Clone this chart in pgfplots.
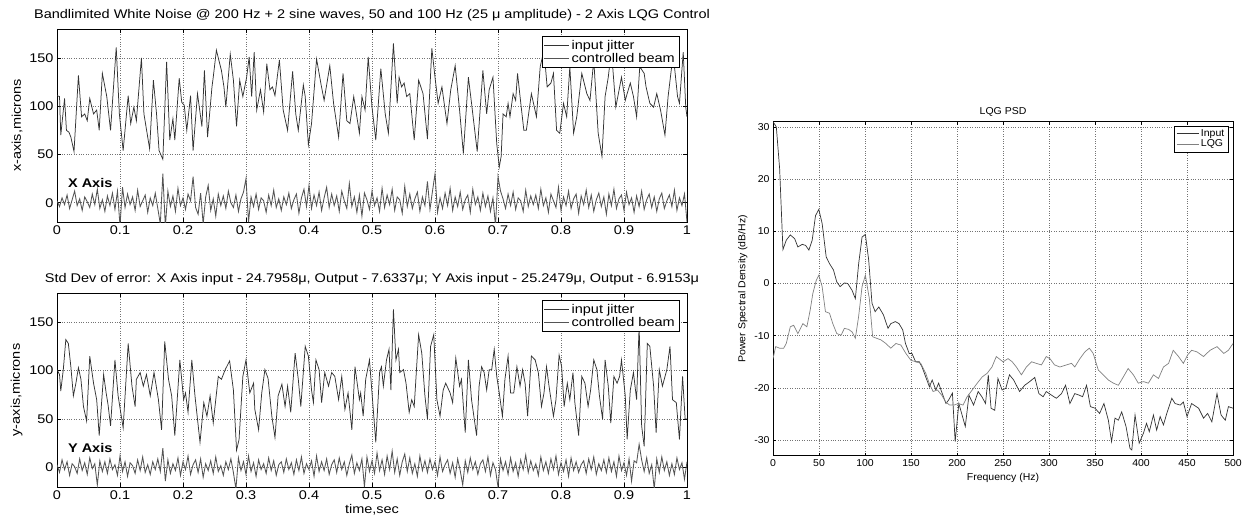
\documentclass[border=0pt]{standalone}
\usepackage{fontspec}
\setmainfont{Liberation Sans}
\newfontfamily\lfont[FakeStretch=1.15]{Liberation Sans}
\newfontfamily\rfont[FakeStretch=1.05]{Liberation Sans}
\usepackage{pgfplots}
\pgfplotsset{compat=1.18}
\definecolor{inpc}{gray}{0.2}
\definecolor{beamc}{gray}{0.33}
\pgfplotsset{
  lefts/.style={
    scale only axis, width=630pt, height=193pt,
    xmin=0, xmax=1, ymin=-20, ymax=180,
    xtick={0,0.1,0.2,0.3,0.4,0.5,0.6,0.7,0.8,0.9,1},
    xticklabels={0,0.1,0.2,0.3,0.4,0.5,0.6,0.7,0.8,0.9,1},
    ytick={0,50,100,150},
    grid=major, major grid style={dotted, black!55, line width=0.5pt},
    tick align=inside, major tick length=4pt,
    tick style={black, line width=0.5pt},
    axis line style={black, line width=0.6pt},
    /pgf/number format/assume math mode=true,
    ticklabel style={font=\lfont\fontsize{12.6}{14}\selectfont},
    label style={font=\lfont\fontsize{12.6}{14}\selectfont},
    title style={font=\lfont\fontsize{12.6}{14}\selectfont, yshift=-2pt},
    legend style={at={(1,1)}, anchor=north east, xshift=-8pt, yshift=-7pt,
      font=\lfont\fontsize{12.6}{14}\selectfont, draw=black, line width=0.5pt,
      fill=white, inner sep=2pt, row sep=-2pt, cells={anchor=west}},
    legend image code/.code={\draw[#1] (0pt,0pt) -- (25pt,0pt);},
  },
  inp/.style={color=inpc, line width=0.75pt},
  beam/.style={color=beamc, line width=0.85pt},
}
\begin{document}
\begin{tikzpicture}
\useasboundingbox (0,0) rectangle (1246pt,523pt);

% ---------------- top-left: X axis ----------------
\begin{axis}[lefts, at={(57pt,301pt)}, anchor=south west,
  ylabel={x-axis,microns},
  title={Bandlimited White Noise @ 200 Hz + 2 sine waves, 50 and 100 Hz (25 μ amplitude) - 2 Axis LQG Control}]
\addplot[inp] coordinates {
(0,111)(0.004,110)(0.006,70)(0.012,108)(0.015,75)(0.019,73)(0.022,68)(0.027,53)(0.034,132)(0.039,89)(0.044,92)(0.048,85)(0.052,108)(0.058,92)(0.063,96)(0.067,75)(0.072,134)(0.079,110)(0.085,75)(0.094,161)(0.099,92)(0.105,54)(0.113,111)(0.117,82)(0.122,99)(0.126,85)(0.134,150)(0.138,92)(0.147,56)(0.153,127)(0.158,92)(0.162,54)(0.168,45)(0.174,146)(0.179,65)(0.184,87)(0.187,65)(0.194,129)(0.198,104)(0.202,101)(0.206,75)(0.212,111)(0.216,54)(0.223,113)(0.230,79)(0.234,137)(0.239,68)(0.246,120)(0.248,130)(0.253,158)(0.261,137)(0.265,120)(0.268,99)(0.275,154)(0.280,127)(0.285,79)(0.290,127)(0.295,110)(0.301,130)(0.305,151)(0.309,110)(0.313,156)(0.317,96)(0.323,117)(0.328,94)(0.333,144)(0.338,117)(0.342,120)(0.346,111)(0.353,148)(0.359,96)(0.366,75)(0.374,136)(0.379,92)(0.383,75)(0.391,122)(0.394,110)(0.399,60)(0.404,82)(0.412,149)(0.419,123)(0.424,106)(0.433,142)(0.439,103)(0.447,68)(0.454,134)(0.460,85)(0.465,82)(0.471,110)(0.480,72)
(0.484,110)(0.489,96)(0.494,151)(0.500,99)(0.506,65)(0.514,139)(0.521,92)(0.526,72)(0.534,165)(0.540,103)(0.543,130)(0.547,120)(0.551,124)(0.555,110)(0.560,113)(0.567,65)(0.574,127)(0.581,113)(0.588,66)(0.595,160)(0.600,130)(0.605,103)(0.611,120)(0.619,82)(0.625,117)(0.632,142)(0.639,96)(0.645,51)(0.653,130)(0.658,103)(0.667,53)(0.676,137)(0.682,92)(0.686,117)(0.692,130)(0.698,61)(0.702,37)(0.705,48)(0.708,92)(0.713,89)(0.716,103)(0.719,89)(0.724,113)(0.728,106)(0.731,134)(0.735,110)(0.741,75)(0.745,75)(0.753,113)(0.761,89)(0.767,141)(0.773,158)(0.778,120)(0.784,124)(0.788,134)(0.793,75)(0.798,72)(0.804,103)(0.809,89)(0.814,141)(0.820,72)(0.825,89)(0.833,134)(0.841,113)(0.846,106)(0.852,148)(0.859,72)(0.865,48)(0.870,110)(0.875,130)(0.880,158)(0.887,99)(0.896,130)(0.902,106)(0.905,113)(0.910,124)(0.915,110)(0.920,89)(0.925,141)(0.932,134)(0.935,120)(0.941,103)(0.947,99)(0.952,113)(0.958,96)(0.965,70)(0.970,110)(0.978,154)(0.985,110)(0.988,103)(0.994,156)(0.998,99)(1.000,89)
};
\addlegendentry{input jitter}
\addplot[beam] coordinates {
(0,2)(0.004,-4)(0.008,5)(0.012,-2)(0.016,8)(0.02,-6)(0.024,3)(0.028,12)(0.032,-3)(0.036,4)
(0.04,-8)(0.044,6)(0.048,1)(0.052,-5)(0.056,9)(0.06,-2)(0.064,14)(0.068,-6)(0.072,3)(0.076,-9)
(0.08,7)(0.084,-3)(0.088,10)(0.092,-7)(0.096,12)(0.1,-24)(0.104,16)(0.108,-5)(0.112,9)(0.116,-2)
(0.12,6)(0.124,-8)(0.128,13)(0.132,-4)(0.136,2)(0.14,8)(0.144,-10)(0.148,5)(0.152,-3)(0.156,10)
(0.16,-6)(0.164,-22)(0.168,30)(0.172,-25)(0.176,12)(0.18,-4)(0.184,7)(0.188,-9)(0.192,15)(0.196,-3)
(0.2,5)(0.204,-7)(0.208,9)(0.212,2)(0.216,27)(0.22,-5)(0.224,-12)(0.228,10)(0.232,-22)(0.236,6)
(0.24,18)(0.244,-8)(0.248,4)(0.252,-14)(0.256,9)(0.26,-3)(0.264,7)(0.268,-6)(0.272,12)(0.276,0)
(0.28,-5)(0.284,8)(0.288,-9)(0.292,4)(0.296,11)(0.3,25)(0.304,-20)(0.308,6)(0.312,-4)(0.316,9)
(0.32,-7)(0.324,5)(0.328,2)(0.332,-10)(0.336,8)(0.34,-3)(0.344,13)(0.348,-5)(0.352,4)(0.356,-8)
(0.36,6)(0.364,-2)(0.368,10)(0.372,-6)(0.376,3)(0.38,9)(0.384,-11)(0.388,5)(0.392,14)(0.396,-4)
(0.4,18)(0.404,-6)(0.408,8)(0.412,-3)(0.416,11)(0.42,-8)(0.424,5)(0.428,16)(0.432,-5)(0.436,9)
(0.44,-3)(0.444,7)(0.448,-9)(0.452,12)(0.456,2)(0.46,-6)(0.464,20)(0.468,-4)(0.472,6)(0.476,-10)
(0.48,8)(0.484,-14)(0.488,10)(0.492,3)(0.496,-7)(0.5,12)(0.504,-3)(0.508,5)(0.512,-9)(0.516,15)
(0.52,-5)(0.524,8)(0.528,-2)(0.532,14)(0.536,-8)(0.54,6)(0.544,3)(0.548,-11)(0.552,17)(0.556,-4)
(0.56,9)(0.564,-6)(0.568,4)(0.572,11)(0.576,-9)(0.58,6)(0.584,-3)(0.588,22)(0.592,-7)(0.596,12)
(0.6,30)(0.604,-10)(0.608,5)(0.612,-6)(0.616,10)(0.62,-3)(0.624,15)(0.628,-8)(0.632,6)(0.636,-4)
(0.64,11)(0.644,-7)(0.648,3)(0.652,8)(0.656,-10)(0.66,14)(0.664,-2)(0.668,6)(0.672,-8)(0.676,10)
(0.68,-4)(0.684,7)(0.688,-9)(0.692,5)(0.696,-24)(0.7,27)(0.704,12)(0.708,4)(0.712,-6)(0.716,9)
(0.72,-3)(0.724,11)(0.728,-7)(0.732,5)(0.736,2)(0.74,-9)(0.744,13)(0.748,-4)(0.752,7)(0.756,-2)
(0.76,8)(0.764,-6)(0.768,14)(0.772,-3)(0.776,5)(0.78,-10)(0.784,9)(0.788,2)(0.792,-5)(0.796,16)
(0.8,-8)(0.804,6)(0.808,-3)(0.812,12)(0.816,-6)(0.82,4)(0.824,9)(0.828,-11)(0.832,7)(0.836,-2)
(0.84,13)(0.844,-5)(0.848,8)(0.852,-9)(0.856,3)(0.86,10)(0.864,-4)(0.868,6)(0.872,-12)(0.876,9)
(0.88,-3)(0.884,14)(0.888,-6)(0.892,4)(0.896,8)(0.9,-8)(0.904,11)(0.908,-2)(0.912,5)(0.916,-10)
(0.92,7)(0.924,-4)(0.928,12)(0.932,-7)(0.936,3)(0.94,9)(0.944,-5)(0.948,6)(0.952,-9)(0.956,4)
(0.96,10)(0.964,-6)(0.968,2)(0.972,8)(0.976,-4)(0.98,13)(0.984,-8)(0.988,5)(0.992,-3)(0.996,9)
(1,-20)
};
\addlegendentry{controlled beam}
\node[anchor=west, font=\lfont\fontsize{12.6}{14}\selectfont\bfseries] at (axis cs:0.012,20) {X Axis};
\end{axis}

% ---------------- bottom-left: Y axis ----------------
\begin{axis}[lefts, at={(57pt,36pt)}, anchor=south west, height=194pt,
  ylabel={y-axis,microns}, xlabel={time,sec},
  xlabel style={yshift=2pt},
  title={Std Dev of error: X Axis input - 24.7958μ, Output - 7.6337μ; Y Axis input - 25.2479μ, Output - 6.9153μ}]
\addplot[inp] coordinates {
(0,101)(0.004,96)(0.006,79)(0.010,101)(0.014,132)(0.018,128)(0.022,104)(0.026,74)(0.030,87)(0.034,103)(0.038,91)(0.042,63)(0.047,48)(0.052,115)(0.058,87)(0.063,70)(0.067,33)(0.074,96)(0.078,77)(0.081,65)(0.085,43)(0.092,111)(0.097,74)(0.105,41)(0.113,128)(0.119,84)(0.124,63)(0.126,91)(0.132,98)(0.137,84)(0.142,96)(0.148,74)(0.154,98)(0.161,70)(0.166,39)(0.171,130)(0.177,91)(0.182,74)(0.187,33)(0.195,111)(0.201,70)(0.204,77)(0.208,57)(0.214,111)(0.219,74)(0.227,26)(0.233,67)(0.238,53)(0.243,74)(0.248,46)(0.256,94)(0.261,91)(0.267,101)(0.274,110)(0.280,80)(0.285,18)(0.289,29)(0.295,94)(0.300,111)(0.306,77)(0.312,87)(0.314,60)(0.320,39)(0.325,77)(0.330,101)(0.335,92)(0.341,53)(0.346,31)(0.351,74)(0.357,86)(0.362,63)(0.366,84)(0.371,57)(0.378,118)(0.383,91)(0.387,63)(0.394,125)(0.399,115)(0.404,80)(0.407,67)(0.411,111)(0.416,101)(0.420,67)(0.425,98)(0.431,84)(0.436,98)(0.441,94)(0.447,70)(0.452,94)(0.457,60)(0.462,77)(0.468,39)(0.473,104)(0.480,70)
(0.482,77)(0.486,53)(0.490,91)(0.496,111)(0.500,77)(0.506,26)(0.512,98)(0.515,104)(0.518,84)(0.523,111)(0.527,122)(0.530,80)(0.534,163)(0.538,111)(0.542,122)(0.544,98)(0.550,101)(0.554,87)(0.559,57)(0.563,70)(0.567,63)(0.574,137)(0.579,118)(0.584,74)(0.588,50)(0.593,125)(0.598,137)(0.603,70)(0.608,53)(0.613,80)(0.617,87)(0.624,77)(0.628,67)(0.633,113)(0.639,84)(0.642,91)(0.648,36)(0.653,111)(0.658,70)(0.666,33)(0.670,84)(0.674,104)(0.678,98)(0.682,80)(0.686,101)(0.690,101)(0.694,122)(0.698,94)(0.702,77)(0.707,53)(0.711,91)(0.716,115)(0.720,77)(0.725,77)(0.730,104)(0.735,84)(0.739,101)(0.743,87)(0.747,53)(0.753,115)(0.759,111)(0.764,98)(0.769,63)(0.773,77)(0.777,104)(0.781,84)(0.788,53)(0.792,70)(0.797,116)(0.801,104)(0.805,63)(0.810,87)(0.814,70)(0.819,98)(0.822,67)(0.828,33)(0.833,94)(0.838,87)(0.843,63)(0.847,80)(0.852,111)(0.857,101)(0.861,74)(0.866,50)(0.870,111)(0.875,84)(0.879,46)(0.884,94)(0.889,87)(0.893,94)(0.896,111)(0.902,74)(0.905,29)(0.910,80)(0.915,98)(0.920,70)(0.924,146)(0.928,43)(0.932,22)(0.937,128)(0.941,125)(0.947,84)(0.951,36)(0.956,101)(0.961,84)(0.968,101)(0.973,125)(0.977,70)(0.983,67)(0.988,29)(0.993,94)(0.997,50)(1.000,50)
};
\addlegendentry{input jitter}
\addplot[beam] coordinates {
(0,3)(0.004,-5)(0.008,8)(0.012,-2)(0.016,6)(0.02,-8)(0.024,4)(0.028,1)(0.032,-6)(0.036,9)
(0.04,-3)(0.044,5)(0.048,-7)(0.052,10)(0.056,-1)(0.06,4)(0.064,-18)(0.068,7)(0.072,-4)(0.076,6)
(0.08,-6)(0.084,9)(0.088,-2)(0.092,3)(0.096,-8)(0.1,12)(0.104,-4)(0.108,6)(0.112,-9)(0.116,5)
(0.12,2)(0.124,-6)(0.128,8)(0.132,-3)(0.136,11)(0.14,-5)(0.144,3)(0.148,-7)(0.152,6)(0.156,-2)
(0.16,9)(0.164,-4)(0.168,20)(0.172,-14)(0.176,8)(0.18,-6)(0.184,4)(0.188,-3)(0.192,10)(0.196,-8)
(0.2,6)(0.204,-2)(0.208,12)(0.212,-7)(0.216,3)(0.22,8)(0.224,-5)(0.228,9)(0.232,-10)(0.236,4)
(0.24,-3)(0.244,7)(0.248,-6)(0.252,11)(0.256,-4)(0.26,2)(0.264,-8)(0.268,6)(0.272,-2)(0.276,9)
(0.28,-5)(0.284,-22)(0.288,10)(0.292,-3)(0.296,6)(0.3,-7)(0.304,12)(0.308,-4)(0.312,5)(0.316,-9)
(0.32,8)(0.324,-2)(0.328,4)(0.332,-6)(0.336,10)(0.34,-3)(0.344,7)(0.348,-8)(0.352,3)(0.356,6)
(0.36,-5)(0.364,9)(0.368,-2)(0.372,5)(0.376,-7)(0.38,8)(0.384,-3)(0.388,11)(0.392,-6)(0.396,4)
(0.4,-2)(0.404,7)(0.408,-9)(0.412,12)(0.416,-4)(0.42,6)(0.424,-3)(0.428,9)(0.432,-7)(0.436,3)
(0.44,8)(0.444,-5)(0.448,10)(0.452,-2)(0.456,6)(0.46,-8)(0.464,4)(0.468,13)(0.472,-6)(0.476,5)
(0.48,-3)(0.484,9)(0.488,-20)(0.492,11)(0.496,-4)(0.5,7)(0.504,-6)(0.508,15)(0.512,-3)(0.516,8)
(0.52,-7)(0.524,12)(0.528,-2)(0.532,17)(0.536,-5)(0.54,9)(0.544,-8)(0.548,6)(0.552,14)(0.556,-4)
(0.56,10)(0.564,-6)(0.568,4)(0.572,-9)(0.576,12)(0.58,-3)(0.584,7)(0.588,-5)(0.592,9)(0.596,-2)
(0.6,6)(0.604,-8)(0.608,11)(0.612,-4)(0.616,3)(0.62,8)(0.624,-6)(0.628,5)(0.632,-10)(0.636,9)
(0.64,-3)(0.644,-18)(0.648,7)(0.652,-5)(0.656,10)(0.66,-2)(0.664,6)(0.668,-7)(0.672,4)(0.676,8)
(0.68,-4)(0.684,11)(0.688,-8)(0.692,5)(0.696,-2)(0.7,-20)(0.704,9)(0.708,-3)(0.712,6)(0.716,-7)
(0.72,10)(0.724,-4)(0.728,5)(0.732,-9)(0.736,8)(0.74,-2)(0.744,13)(0.748,-5)(0.752,7)(0.756,-3)
(0.76,4)(0.764,-8)(0.768,11)(0.772,-3)(0.776,6)(0.78,-6)(0.784,9)(0.788,-2)(0.792,12)(0.796,-7)
(0.8,5)(0.804,-4)(0.808,8)(0.812,-9)(0.816,10)(0.82,-3)(0.824,6)(0.828,-5)(0.832,3)(0.836,7)
(0.84,-6)(0.844,9)(0.848,-2)(0.852,11)(0.856,-7)(0.86,4)(0.864,-3)(0.868,8)(0.872,-5)(0.876,10)
(0.88,-4)(0.884,6)(0.888,-9)(0.892,12)(0.896,-3)(0.9,5)(0.904,-8)(0.908,9)(0.912,-14)(0.916,7)
(0.92,5)(0.924,24)(0.928,8)(0.932,-4)(0.936,10)(0.94,-6)(0.944,3)(0.948,-22)(0.952,9)(0.956,-5)
(0.96,11)(0.964,-3)(0.968,6)(0.972,-8)(0.976,4)(0.98,-7)(0.984,10)(0.988,-2)(0.992,5)(0.996,-12)
(1,6)
};
\addlegendentry{controlled beam}
\node[anchor=west, font=\lfont\fontsize{12.6}{14}\selectfont\bfseries] at (axis cs:0.012,20) {Y Axis};
\end{axis}

% ---------------- right: PSD ----------------
\begin{axis}[at={(773pt,67.3pt)}, anchor=south west,
  scale only axis, width=460pt, height=334pt,
  xmin=0, xmax=500, ymin=-33, ymax=31,
  xtick={0,50,100,150,200,250,300,350,400,450,500},
  ytick={-30,-20,-10,0,10,20,30},
  grid=major, major grid style={dotted, black!55, line width=0.5pt},
  tick align=inside, major tick length=3pt,
  tick style={black, line width=0.5pt},
  axis line style={black, line width=0.6pt},
  /pgf/number format/assume math mode=true,
  ticklabel style={font=\rfont\fontsize{10}{12}\selectfont},
  label style={font=\rfont\fontsize{10}{12}\selectfont},
  title style={font=\rfont\fontsize{10}{12}\selectfont, yshift=-4pt},
  xlabel={Frequency (Hz)}, ylabel={Power Spectral Density (dB/Hz)},
  title={LQG PSD},
  legend style={at={(1,1)}, anchor=north east, xshift=-5pt, yshift=-4pt,
    font=\rfont\fontsize{10}{12}\selectfont, draw=black, line width=0.5pt,
    fill=white, inner sep=1.5pt, row sep=-2pt, cells={anchor=west}},
  legend image code/.code={\draw[#1] (0pt,0pt) -- (22pt,0pt);},
]
\addplot[color=inpc, line width=0.7pt] coordinates {
(0,31)(3.6,30)(7.2,22)(10.8,6.5)(14.4,8.3)(18.8,9.3)(23.5,8.6)(27,7)(31.8,7.5)(35.4,7.3)(39,6.4)(42.6,8.3)(46.2,13)(49.8,14.2)(53.4,11.5)(57.8,5.1)(61.4,3.8)(65.7,2.6)(69.3,0.3)(72.9,-0.6)(77.6,0.1)(81.2,0)(85.9,-1.3)(89.5,-2.9)(93.1,3.8)(96.8,8.9)(100.4,9.4)(104,4.5)(107.6,-3.8)(111,-5.4)(115,-4.5)(120,-6)(125,-8.6)(128,-7.7)(133,-7.3)(137,-7.7)(141,-8.9)(144,-11.5)(148,-13.4)(151,-13.4)(155,-15)(159,-15)(162,-16)(166,-17.9)(170,-19.8)(173,-18.5)(177,-20.4)(180,-19.1)(184,-21.1)(188,-23)(191,-22.3)(195,-21)(198,-30.3)(202,-23)(209,-27.4)(213,-21.4)(218,-23.3)(223,-20.7)(227,-21.7)(231,-23)(234,-17.5)(237,-23.9)(241,-24.3)(244.5,-18.2)(249,-20.4)(253,-20.1)(257,-17.5)(261.6,-18.5)(268,-20.7)(273.6,-19.5)(279,-18.8)(284.5,-18)(289,-21.1)(293.6,-21.7)(297,-20.7)(302.7,-21.4)(308,-22)(313.6,-21.1)(318,-19.5)(322.7,-23)(328,-21.1)(332.8,-21.4)(336.5,-21.7)(340.8,-19.5)(345,-23.6)(350,-23.9)(355,-24.9)(359.7,-23)(364.5,-26.2)(368,-30.3)(371.7,-25.8)(375.4,-26.2)(379,-24.6)(383.7,-27.4)(388,-31.6)(390,-31.9)(393.5,-25.2)(398,-30.6)(402.6,-28.7)(406,-26.8)(409,-28.4)(413.5,-25.2)(417,-28.1)(420.8,-25.5)(424.4,-27.1)(428,-24.9)(433.5,-22)(437,-23)(442.6,-23.3)(446,-22.7)(450,-25.5)(455,-23)(462.6,-23.9)(468,-25.8)(472.4,-24.9)(477,-26.5)(482.6,-21.1)(487,-25.2)(491.6,-26.2)(495,-23.6)(500,-23.9)
};
\addlegendentry{Input}
\addplot[color=black!50, line width=0.7pt] coordinates {
(0,-14.4)(2.9,-12.1)(7.2,-12.4)(11.6,-12.4)(14.4,-11.5)(18.8,-8.3)(22.4,-8)(27,-9.6)(32.5,-7.7)(36.8,-8.3)(40.4,-5.1)(43.3,-1.9)(47,0.6)(49.8,1.6)(53.4,-0.6)(57,-5.4)(61.4,-5.7)(65,-7.7)(69.3,-9.6)(74,-9.9)(77.6,-8.6)(82.3,-8.8)(86,-9.3)(89.5,-10.5)(93,-6.4)(96.8,-0.6)(100.4,1.6)(104.7,-2.9)(108.3,-10.2)(112.6,-10.5)(117.3,-10.8)(122.7,-11.5)(128,-12.4)(133.6,-11.5)(139,-11.8)(144.4,-13.4)(149.8,-14.7)(155.2,-15)(160.6,-15.3)(166,-17.2)(169.7,-19.1)(174,-20.7)(178.7,-20.4)(183.4,-21.4)(187.7,-22.7)(192,-23.3)(196.7,-23.3)(201.4,-23)(206.5,-23.3)(211,-21.7)(216.6,-20.4)(222,-19.1)(227.4,-17.9)(232.8,-17.2)(238,-16)(242.7,-14)(250,-15)(255.5,-14.4)(260,-15)(264.5,-16)(270,-17.5)(275.4,-16)(281,-15)(286,-15.3)(291.8,-15.6)(297,-14)(301,-14.4)(306,-15.6)(311.8,-16)(319,-15.6)(324.5,-15.3)(328,-16)(333.6,-14.4)(339,-13.1)(343.8,-12.4)(348,-13.4)(353.6,-16.6)(359,-17.5)(364.5,-18.5)(370,-19.1)(375.4,-19.5)(380.8,-17.9)(386,-16.3)(391.7,-17.5)(397,-19.1)(402.6,-18.8)(408,-19.1)(413.5,-17.5)(419,-18.2)(424.4,-16)(430,-15.3)(435,-12.8)(440.8,-14)(446,-15.3)(450.6,-13.7)(455,-12.8)(460.8,-13.1)(468,-14)(475,-12.8)(482.6,-12.1)(490,-13.4)(495,-12.8)(500,-11.5)
};
\addlegendentry{LQG}
\end{axis}
\end{tikzpicture}
\end{document}
